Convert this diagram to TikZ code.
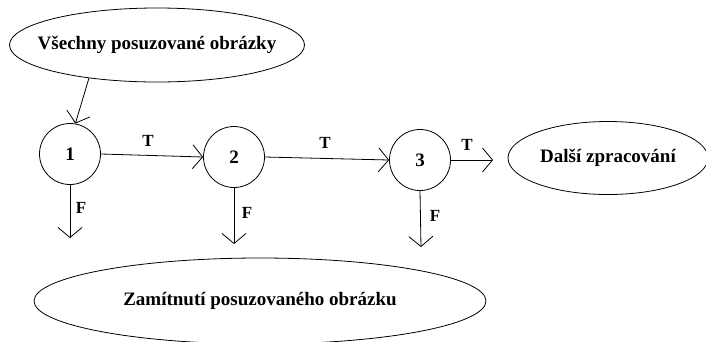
\documentclass[tikz,border=0pt]{standalone}
\usepackage{fontspec}
\setmainfont{Liberation Serif}
\usetikzlibrary{shapes.geometric,arrows.meta}

\tikzset{
  oval/.style={draw,ellipse,inner xsep=-16pt,inner ysep=0pt,line width=0.8pt},
  decision/.style={draw,circle,minimum size=61pt,inner sep=0pt,line width=0.8pt},
  flow/.style={line width=0.8pt,-{Straight Barb[length=10pt,width=24pt,line width=0.8pt]}},
  lbl/.style={font=\fontsize{17}{19}\selectfont\bfseries}
}

\begin{document}
\begin{tikzpicture}[x=1pt,y=-1pt,font=\fontsize{19}{22}\selectfont\bfseries]
    \useasboundingbox (0,0) rectangle (706,341);

    % start and end ovals
    \node[oval,minimum width=295pt,minimum height=74pt] (all) at (157,45)
      {Všechny posuzované obrázky};
    \node[oval,minimum width=200pt,minimum height=73pt] (next) at (608,158)
      {Další zpracování};
    \node[oval,minimum width=452pt,minimum height=86pt] (reject) at (260,301)
      {Zamítnutí posuzovaného obrázku};

    % decision steps
    \node[decision] (c1) at (70,154) {1};
    \node[decision] (c2) at (234,157) {2};
    \node[decision] (c3) at (420,160) {3};

    % free ends of the F arrows and the last T arrow
    \coordinate (f1) at (70,238);
    \coordinate (f2) at (234,244);
    \coordinate (f3) at (421,247);
    \coordinate (t3) at (493,160);

    % T branch
    \draw[flow] (all.206) -- (c1.80);
    \draw[flow] (c1.east) -- (c2.west);
    \draw[flow] (c2.east) -- (c3.west);
    \draw[flow] (c3.east) -- (t3);
    \node[lbl] (tlab1) at (148,141) {T};
    \node[lbl] (tlab2) at (325,143) {T};
    \node[lbl] (tlab3) at (467,145) {T};

    % F branch
    \draw[flow] (c1.south) -- (f1);
    \draw[flow] (c2.south) -- (f2);
    \draw[flow] (c3.270) -- (f3);
    \node[lbl] (flab1) at (81,208) {F};
    \node[lbl] (flab2) at (247,213) {F};
    \node[lbl] (flab3) at (435,216) {F};
  \end{tikzpicture}
\end{document}
